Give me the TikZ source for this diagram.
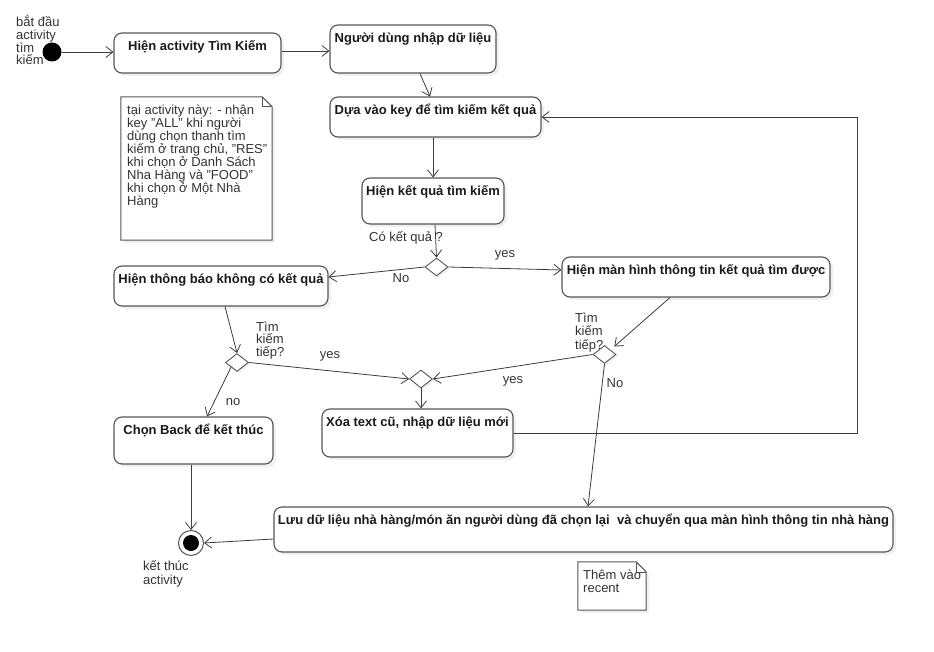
\documentclass[tikz,border=0pt]{standalone}
\usepackage{fontspec}
\setmainfont{Liberation Sans}
\usepackage{graphicx}
\usetikzlibrary{positioning}
\usetikzlibrary{arrows.meta}
\usetikzlibrary{shapes.geometric}
\usetikzlibrary{shadows}

\definecolor{umlline}{HTML}{555555}
\definecolor{umltext}{HTML}{1A1A1A}
\definecolor{lbltext}{HTML}{333333}

\newcommand{\qt}{\symbol{34}}

\tikzset{
    act/.style={draw=umlline, line width=1.1pt, fill=white,
        rounded corners=8pt, inner xsep=2pt, inner ysep=0pt,
        text=umltext, text height=17.5pt,
        font=\fontsize{13}{14}\selectfont\bfseries,
        drop shadow={shadow xshift=3pt, shadow yshift=-3pt, opacity=0.12}},
    choice/.style={diamond, draw=umlline, line width=0.9pt, fill=white,
        inner sep=0pt, minimum width=23pt, minimum height=18pt,
        drop shadow={shadow xshift=2pt, shadow yshift=-2pt, opacity=0.12}},
    flow/.style={draw=umlline!70!black, line width=0.8pt,
        -{Straight Barb[length=7pt, width=11pt]}},
    lbl/.style={inner sep=0pt, text=lbltext, align=left,
        font=\fontsize{13}{13}\selectfont},
    notebox/.style={draw=umlline, line width=1pt, fill=white},
}

\begin{document}
\begin{tikzpicture}[x=1pt, y=-1pt]
    \useasboundingbox (0,0) rectangle (934,652);

    % start / end
    \node[circle, fill=black, minimum size=19pt, inner sep=0pt] (start) at (52,52) {};
    \node[circle, draw=umlline, line width=1pt, fill=white,
        minimum size=25pt, inner sep=0pt] (end) at (191,543) {};
    \node[circle, fill=black, minimum size=16pt, inner sep=0pt] (endDot) at (end) {};

    % activities
    \node[act, minimum width=167pt, text depth=22.5pt] (hienAct) at (197.5,53)
        {Hiện activity Tìm Kiếm};
    \node[act, minimum width=166pt, text depth=30.5pt] (nhapDL) at (413,49)
        {Người dùng nhập dữ liệu};
    \node[act, minimum width=211pt, text depth=22.5pt] (timKiem) at (435.5,117)
        {Dựa vào key để tìm kiếm kết quả};
    \node[act, minimum width=142pt, text depth=28.5pt] (ketQua) at (433,201)
        {Hiện kết quả tìm kiếm};
    \node[act, minimum width=214pt, text depth=22.5pt] (thongBao) at (221,286)
        {Hiện thông báo không có kết quả};
    \node[act, minimum width=268pt, text depth=22.5pt] (manHinh) at (696,277)
        {Hiện màn hình thông tin kết quả tìm được};
    \node[act, minimum width=159pt, text depth=29.5pt] (chonBack) at (193.5,440.5)
        {Chọn Back để kết thúc};
    \node[act, minimum width=191pt, text depth=30.5pt] (xoaText) at (417.5,433)
        {Xóa text cũ, nhập dữ liệu mới};
    \node[act, minimum width=619pt, text depth=27.5pt] (luuDL) at (583.5,529.5)
        {\resizebox{611pt}{\height}{Lưu dữ liệu nhà hàng/món ăn người dùng đã chọn lại \ và chuyển qua màn hình thông tin nhà hàng}};

    % decisions
    \node[choice] (d1) at (436.5,267) {};
    \node[choice] (d2) at (237,362.5) {};
    \node[choice] (d3) at (421,379) {};
    \node[choice] (d4) at (604.5,354.5) {};

    % notes
    \node[minimum width=151pt, minimum height=143pt, inner sep=0pt] (note1) at (196.5,168.5) {};
    \node[minimum width=68pt, minimum height=48pt, inner sep=0pt] (note2) at (612,586) {};
    \foreach \n in {note1, note2} {
        \draw[notebox, drop shadow={shadow xshift=3pt, shadow yshift=-3pt, opacity=0.12}]
            (\n.north west) -- ([xshift=-10pt]\n.north east)
            -- ([yshift=-10pt]\n.north east) -- (\n.south east)
            -- (\n.south west) -- cycle;
        \draw[umlline, line width=0.6pt] ([xshift=-10pt]\n.north east)
            -- ([xshift=-10pt, yshift=-10pt]\n.north east)
            -- ([yshift=-10pt]\n.north east);
    }
    \node[lbl, anchor=base west] (note1txt) at (127,206)
        {tại activity này: - nhận\\key \qt ALL\qt{} khi người\\dùng chọn thanh tìm\\kiếm ở trang chủ, \qt RES\qt\\khi chọn ở Danh Sách\\Nha Hàng và \qt FOOD\qt\\khi chọn ở Một Nhà\\Hàng};
    \node[lbl, anchor=base west] (note2txt) at (583,592) {Thêm vào\\recent};

    % connectors
    \draw[flow] (start.east) -- (start -| hienAct.west);
    \draw[flow] ([yshift=2pt]hienAct.east) -- ([yshift=-2pt]nhapDL.west);
    \draw[flow] ([xshift=7pt]nhapDL.south) -- ([xshift=-5.5pt]timKiem.north);
    \draw[flow] (ketQua.north |- timKiem.south) -- (ketQua.north);
    \draw[flow] ([xshift=2pt]ketQua.south) -- (d1.north);
    \draw[flow] (d1.west) -- ([yshift=9pt]thongBao.east);
    \draw[flow] (d1.east) -- ([yshift=7pt]manHinh.west);
    \draw[flow] ([xshift=4pt]thongBao.south) -- (d2.north);
    \draw[flow] (d2.south west) -- ([xshift=13.5pt]chonBack.north);
    \draw[flow] (d2.east) -- (d3.west);
    \draw[flow, shorten >=5pt] ([xshift=-26pt]manHinh.south) -- (d4.north east);
    \draw[flow] (d4.west) -- (d3.east);
    \draw[flow] (d4.south) -- ([xshift=4.5pt]luuDL.north);
    \draw[flow] (d3.south) -- (d3.south |- xoaText.north);
    \draw[flow] (xoaText.east) -| ([xshift=316pt]timKiem.east) -- (timKiem.east);
    \draw[flow] (end |- chonBack.south) -- (end.north);
    \draw[flow] ([yshift=-9.5pt]luuDL.west) -- (end.east);

    % labels
    \node[lbl, anchor=base west, font=\fontsize{13}{12.7}\selectfont] (lblStart) at (16,65)
        {bắt đầu\\activity\\tìm\\kiếm};
    \node[lbl, anchor=base west, font=\fontsize{13}{14}\selectfont] (lblEnd) at (143,584)
        {kết thúc\\activity};
    \node[lbl] (lblCo) at (406,238) {Có kết quả ?};
    \node[lbl] (lblNo1) at (401,278) {No};
    \node[lbl] (lblYes1) at (505,255) {yes};
    \node[lbl, anchor=base west, font=\fontsize{13}{12.5}\selectfont] (lblTiep1) at (256,356)
        {Tìm\\kiếm\\tiếp?};
    \node[lbl] (lblYes2) at (330,356) {yes};
    \node[lbl] (lblNo2) at (233,402) {no};
    \node[lbl, anchor=base west, font=\fontsize{13}{13.5}\selectfont] (lblTiep2) at (575,349)
        {Tìm\\kiếm\\tiếp?};
    \node[lbl] (lblYes3) at (513,381) {yes};
    \node[lbl] (lblNo3) at (615,383) {No};
\end{tikzpicture}
\end{document}
